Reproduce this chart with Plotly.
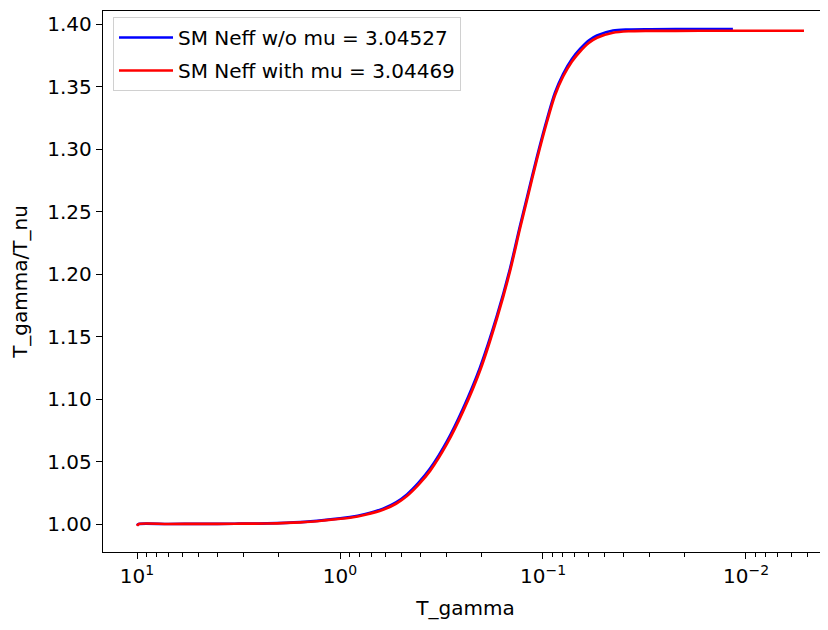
import plotly.graph_objects as go

# Data
T_gamma = [10.0, 9.8, 7.0, 4.9, 3.3, 2.29, 1.57, 1.2, 0.893, 0.75, 0.614, 0.53, 0.468, 0.41,
           0.360, 0.297, 0.248, 0.204, 0.169, 0.1455, 0.130, 0.120, 0.107, 0.0955, 0.0873,
           0.0796, 0.072, 0.0657, 0.0593, 0.0542, 0.0452, 0.038, 0.0297, 0.0169, 0.0116]
ratio_wo_mu = [0.9990, 1.0000, 1.0000, 1.0001, 1.0002, 1.0005, 1.0015, 1.0031, 1.0055, 1.0080,
               1.0122, 1.0172, 1.0236, 1.0330, 1.0443, 1.0663, 1.0922, 1.1255, 1.1660, 1.2040,
               1.2380, 1.2610, 1.2940, 1.3240, 1.3450, 1.3600, 1.3720, 1.3800, 1.3870, 1.3908,
               1.3948, 1.3956, 1.3958, 1.3959, 1.3959]

T_gamma_mu = [10.0, 9.8, 7.0, 4.9, 3.3, 2.29, 1.57, 1.2, 0.893, 0.75, 0.614, 0.53, 0.468, 0.41,
              0.360, 0.297, 0.248, 0.204, 0.169, 0.1455, 0.130, 0.120, 0.107, 0.0955, 0.0873,
              0.0796, 0.072, 0.0657, 0.0593, 0.0542, 0.0452, 0.038, 0.0297, 0.0169, 0.0116,
              0.008, 0.00518]
ratio_with_mu = [0.9985, 1.0000, 1.0000, 1.0001, 1.0002, 1.0004, 1.0013, 1.0028, 1.0050, 1.0074,
                 1.0114, 1.0162, 1.0224, 1.0315, 1.0425, 1.0643, 1.0899, 1.1230, 1.1640, 1.2020,
                 1.2360, 1.2590, 1.2920, 1.3220, 1.3430, 1.3580, 1.3700, 1.3780, 1.3850, 1.3890,
                 1.3930, 1.3942, 1.3945, 1.3946, 1.3946, 1.3946, 1.3946]

label_wo = "SM Neff w/o mu = 3.04527"
label_with = "SM Neff with mu = 3.04469"

x_tickvals = [10, 1, 0.1, 0.01]
x_ticktext = ["10<sup>1</sup>", "10<sup>0</sup>", "10<sup>\u22121</sup>", "10<sup>\u22122</sup>"]
y_tickvals = [1.00, 1.05, 1.10, 1.15, 1.20, 1.25, 1.30, 1.35, 1.40]

fig = go.Figure()
fig.add_trace(go.Scatter(x=T_gamma, y=ratio_wo_mu, mode="lines", name=label_wo, legendgroup="a",
                         line=dict(color="blue", width=2.7, shape="spline", smoothing=0.8)))
fig.add_trace(go.Scatter(x=T_gamma_mu, y=ratio_with_mu, mode="lines", name=label_with, legendgroup="b",
                         line=dict(color="red", width=2.7, shape="spline", smoothing=0.8)))

axis_font = dict(family="DejaVu Sans", size=20, color="black")

fig.update_layout(
    width=828, height=630,
    margin=dict(l=95, r=8, t=3, b=86),
    paper_bgcolor="white", plot_bgcolor="white",
    font=axis_font,
    showlegend=True,
    legend=dict(x=0.0138, y=0.9889, xanchor="left", yanchor="top",
                bgcolor="rgba(255,255,255,0.8)", bordercolor="#d0d0d0", borderwidth=1,
                font=dict(family="DejaVu Sans", size=20, color="black"),
                tracegroupgap=4, itemwidth=54),
)
fig.update_xaxes(
    type="log", range=[1.1675, -2.404], automargin=False,
    tickvals=x_tickvals, ticktext=x_ticktext,
    ticks="outside", ticklen=6, tickwidth=1.2, tickcolor="black",
    minor=dict(ticks="outside", ticklen=3.5, tickwidth=1, tickcolor="black", dtick="D1", showgrid=False),
    showline=True, linecolor="black", linewidth=1.4, mirror=True,
    showgrid=False, zeroline=False,
    title=dict(text="T_gamma", font=axis_font, standoff=13),
    tickfont=axis_font,
)
fig.update_yaxes(
    range=[0.9776, 1.4104], automargin=False,
    tickvals=y_tickvals, tickformat=".2f",
    ticks="outside", ticklen=6, tickwidth=1.2, tickcolor="black",
    showline=True, linecolor="black", linewidth=1.4, mirror=False,
    showgrid=False, zeroline=False,
    title=dict(text="T_gamma/T_nu", font=axis_font, standoff=16),
    tickfont=axis_font,
)

fig.write_html("out.html")
